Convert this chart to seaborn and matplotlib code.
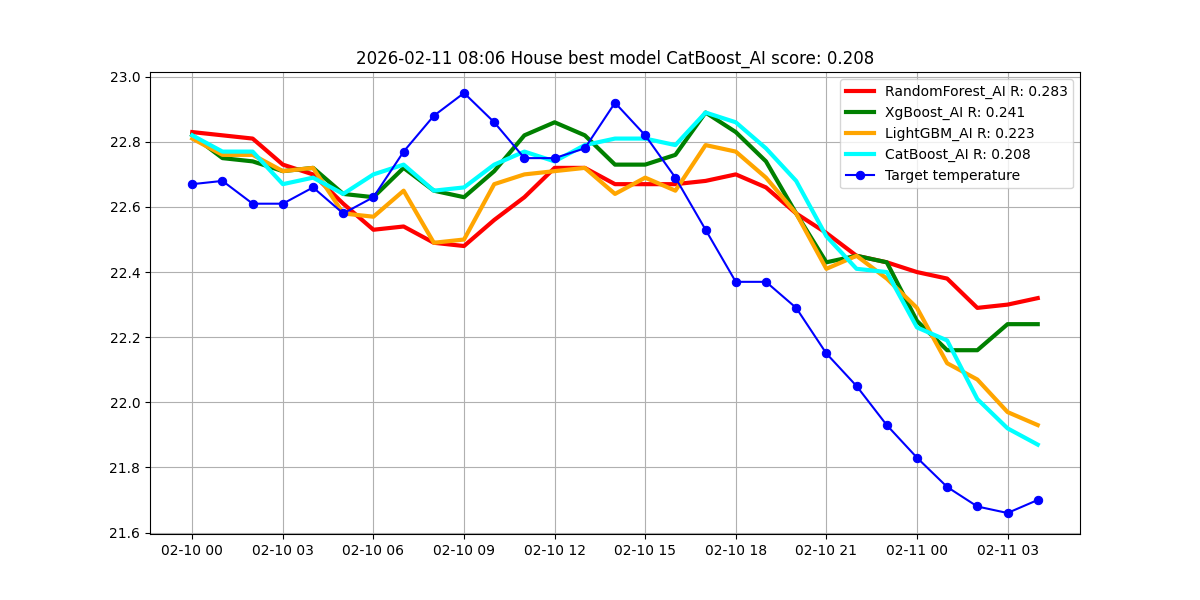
import pandas as pd
import matplotlib
matplotlib.use('Agg')
import matplotlib.pyplot as plt
import matplotlib.dates as mdates
import seaborn as sns

# 时间轴：2026-02-10 00:00 起，每小时一个点
times = pd.date_range('2026-02-10 00:00', periods=29, freq='h')

target = [22.67, 22.68, 22.61, 22.61, 22.66, 22.58, 22.63, 22.77, 22.88, 22.95,
          22.86, 22.75, 22.75, 22.78, 22.92, 22.82, 22.69, 22.53, 22.37, 22.37,
          22.29, 22.15, 22.05, 21.93, 21.83, 21.74, 21.68, 21.66, 21.70]
random_forest = [22.83, 22.82, 22.81, 22.73, 22.70, 22.61, 22.53, 22.54, 22.49, 22.48,
                 22.56, 22.63, 22.72, 22.72, 22.67, 22.67, 22.67, 22.68, 22.70, 22.66,
                 22.58, 22.52, 22.45, 22.43, 22.40, 22.38, 22.29, 22.30, 22.32]
xgboost = [22.82, 22.75, 22.74, 22.71, 22.72, 22.64, 22.63, 22.72, 22.65, 22.63,
           22.71, 22.82, 22.86, 22.82, 22.73, 22.73, 22.76, 22.89, 22.83, 22.74,
           22.58, 22.43, 22.45, 22.43, 22.25, 22.16, 22.16, 22.24, 22.24]
lightgbm = [22.81, 22.76, 22.76, 22.71, 22.72, 22.58, 22.57, 22.65, 22.49, 22.50,
            22.67, 22.70, 22.71, 22.72, 22.64, 22.69, 22.65, 22.79, 22.77, 22.69,
            22.58, 22.41, 22.45, 22.38, 22.29, 22.12, 22.07, 21.97, 21.93]
catboost = [22.82, 22.77, 22.77, 22.67, 22.69, 22.64, 22.70, 22.73, 22.65, 22.66,
            22.73, 22.77, 22.74, 22.79, 22.81, 22.81, 22.79, 22.89, 22.86, 22.78,
            22.68, 22.51, 22.41, 22.40, 22.23, 22.19, 22.01, 21.92, 21.87]

models = {
    'RandomForest_AI R: 0.283': (random_forest, 'red'),
    'XgBoost_AI R: 0.241': (xgboost, 'green'),
    'LightGBM_AI R: 0.223': (lightgbm, 'orange'),
    'CatBoost_AI R: 0.208': (catboost, 'cyan'),
}

fig, ax = plt.subplots(figsize=(12, 6), dpi=100)

for label, (values, color) in models.items():
    sns.lineplot(x=times, y=values, color=color, linewidth=3, label=label, ax=ax)

sns.lineplot(x=times, y=target, color='blue', marker='o', markersize=6,
             markeredgecolor='blue', linewidth=1.5, label='Target temperature', ax=ax)

ax.xaxis.set_major_locator(mdates.HourLocator(interval=3))
ax.xaxis.set_major_formatter(mdates.DateFormatter('%m-%d %H'))
ax.grid(True)
ax.set_xlabel('')
ax.set_ylabel('')
ax.set_title('2026-02-11 08:06 House best model CatBoost_AI score: 0.208')
ax.legend(loc='upper right')

plt.savefig('out.png', dpi=100)
